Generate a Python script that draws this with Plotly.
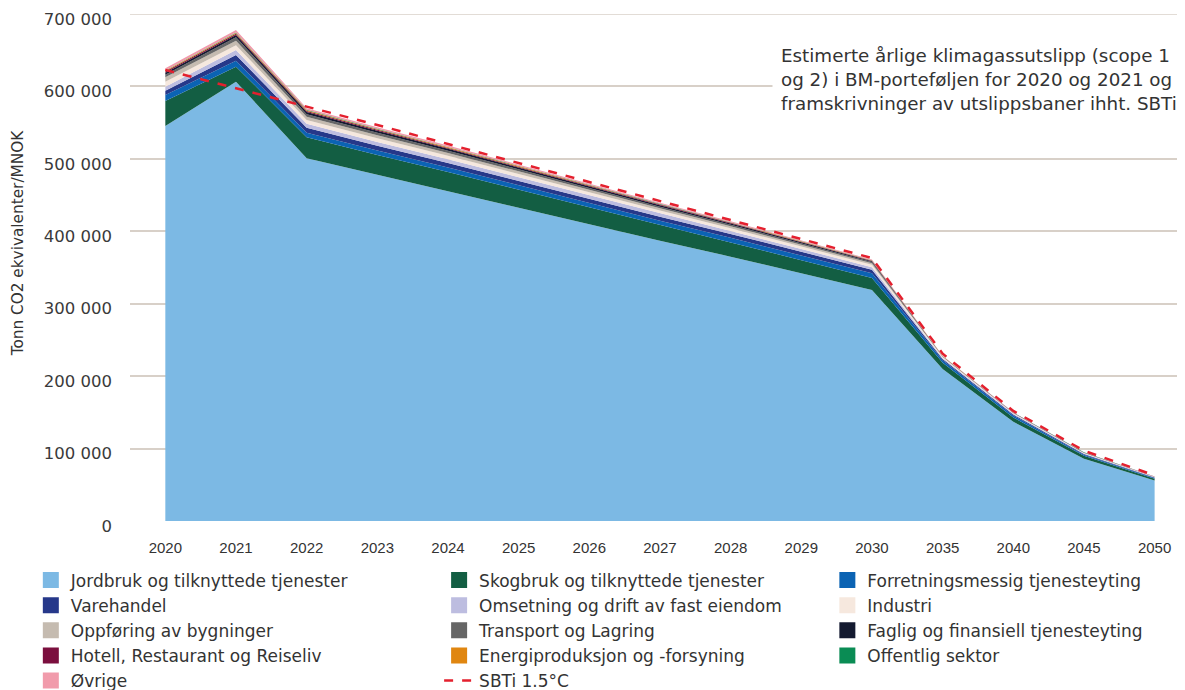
import plotly.graph_objects as go

years = ["2020", "2021", "2022", "2023", "2024", "2025", "2026", "2027",
         "2028", "2029", "2030", "2035", "2040", "2045", "2050"]

# values in 1000 tonn CO2e (stack layers, bottom to top)
jordbruk = [545.5, 606.6, 501, 478, 456, 433, 410, 387, 365, 342, 319, 210, 137, 86, 56]
skogbruk = [34.5, 20.7, 29, 27.4, 25.9, 24.3, 22.8, 21.2, 19.6, 18.1, 16.5, 8.5, 6, 4, 2.5]
forretning = [8, 8.3, 6.2, 6.2, 6.3, 6.3, 6.4, 6.4, 6.4, 6.5, 6.5, 3.3, 2.5, 1.6, 1.0]
varehandel = [6, 7.8, 6.6, 6.4, 6.2, 6.0, 5.8, 5.6, 5.4, 5.2, 5.0, 2.0, 1.5, 1.0, 0.6]
omsetning = [5.7, 6.9, 5.5, 5.3, 5.0, 4.8, 4.5, 4.3, 4.0, 3.8, 3.5, 1.3, 1.0, 0.7, 0.4]
industri = [6.9, 6.7, 5.5, 5.2, 4.9, 4.6, 4.4, 4.1, 3.8, 3.5, 3.2, 1.2, 0.8, 0.5, 0.3]
oppforing = [6.1, 6.0, 4.5, 4.2, 3.9, 3.6, 3.4, 3.1, 2.8, 2.5, 2.2, 0.5, 0.4, 0.3, 0.2]
transport = [3.3, 5.0, 3.4, 3.2, 3.0, 2.7, 2.5, 2.3, 2.1, 1.8, 1.6, 0.4, 0.3, 0.2, 0.15]
faglig = [3.0, 3.0, 3.1, 2.9, 2.7, 2.4, 2.2, 2.0, 1.8, 1.5, 1.3, 0.3, 0.2, 0.2, 0.1]
hotell = [1.5, 1.6, 1.4, 1.3, 1.2, 1.1, 1.0, 0.9, 0.8, 0.7, 0.6, 0.1, 0.1, 0.1, 0.05]
energi = [1.0, 1.1, 1.0, 0.9, 0.9, 0.8, 0.7, 0.6, 0.5, 0.5, 0.4, 0.1, 0.05, 0.1, 0.05]
offentlig = [0.5, 0.6, 0.6, 0.6, 0.5, 0.5, 0.5, 0.4, 0.4, 0.3, 0.3, 0.1, 0.05, 0.1, 0.05]
ovrige = [3.0, 3.7, 2.2, 2.0, 1.9, 1.7, 1.6, 1.4, 1.2, 1.1, 0.9, 0.2, 0.1, 0.2, 0.1]
sbti = [622.8, 597.5, 573, 546.8, 520.5, 494.3, 468, 441.8, 415.5, 389.3, 363, 231, 152, 97, 63]

series_names = [
    "Jordbruk og tilknyttede tjenester", "Skogbruk og tilknyttede tjenester",
    "Forretningsmessig tjenesteyting", "Varehandel",
    "Omsetning og drift av fast eiendom", "Industri",
    "Oppføring av bygninger", "Transport og Lagring",
    "Faglig og finansiell tjenesteyting", "Hotell, Restaurant og Reiseliv",
    "Energiproduksjon og -forsyning", "Offentlig sektor", "Øvrige",
]
series_values = [jordbruk, skogbruk, forretning, varehandel, omsetning, industri,
                 oppforing, transport, faglig, hotell, energi, offentlig, ovrige]
series_colors = ["#7cb9e4", "#135e43", "#0b63b3", "#26388a", "#bdbde0", "#f6e8de",
                 "#c5bbb0", "#666666", "#141a30", "#7b0f3e", "#e08610", "#0a8c54",
                 "#f19bab"]
legend_of = ["legend", "legend2", "legend3"] * 5

ytick_vals = [0, 100000, 200000, 300000, 400000, 500000, 600000, 700000]
ytick_text = ["0", "100 000", "200 000", "300 000", "400 000", "500 000", "600 000", "700 000"]

fig = go.Figure()
for i, (name, vals, col) in enumerate(zip(series_names, series_values, series_colors)):
    fig.add_trace(go.Scatter(
        x=years, y=[v * 1000 for v in vals], name=name, mode="lines",
        stackgroup="one", line=dict(width=0, color=col), fillcolor=col,
        legendgroup=name, showlegend=False, hoverinfo="x+y+name"))
for i, (name, col) in enumerate(zip(series_names, series_colors)):
    fig.add_trace(go.Scatter(
        x=[None], y=[None], name=name, mode="markers",
        marker=dict(symbol="square", size=16, color=col, line=dict(width=0)),
        legendgroup=name, showlegend=True, legend=legend_of[i]))
fig.add_trace(go.Scatter(
    x=years, y=[v * 1000 for v in sbti], name="SBTi 1.5°C", mode="lines",
    line=dict(color="#e4202e", width=2.5, dash="dash"), legend="legend2"))

font_leg = dict(family="DejaVu Sans, sans-serif", size=17, color="#333333")
leg_common = dict(orientation="v", yanchor="top", xanchor="left", y=-0.082,
                  font=font_leg, bgcolor="rgba(0,0,0,0)", tracegroupgap=0,
                  itemclick="toggle")

# page body adds an 8px offset, so the figure is drawn 8px smaller
fig.update_layout(
    width=1177, height=682,
    margin=dict(l=122, r=0, t=6, b=169, autoexpand=False),
    paper_bgcolor="white", plot_bgcolor="white",
    showlegend=True,
    legend=dict(x=-0.094, **leg_common),
    legend2=dict(x=0.293, **leg_common),
    legend3=dict(x=0.661, **leg_common),
    xaxis=dict(type="category", range=[-0.5, 14.43], showgrid=False, zeroline=False,
               showline=False, ticks="", ticklabelstandoff=16, automargin=False,
               tickfont=dict(family="Liberation Sans Narrow, Arial Narrow, sans-serif",
                             size=15, color="#333333")),
    yaxis=dict(range=[0, 700000], tickvals=ytick_vals, ticktext=ytick_text,
               showgrid=True, gridcolor="#d8d0c8", gridwidth=1.5, zeroline=False,
               showline=False, ticks="", ticklabelstandoff=17, automargin=False,
               ticklabeloverflow="allow", ticklabelshift=5,
               tickfont=dict(family="DejaVu Sans, sans-serif", size=16.5, color="#3a3a3a")),
    shapes=[dict(type="line", xref="paper", yref="y", x0=0, x1=1, y0=700000, y1=700000,
                 line=dict(color="#d8d0c8", width=1.5), layer="below")],
    annotations=[
        dict(text="Tonn CO2 ekvivalenter/MNOK", textangle=-90, xref="paper", yref="paper",
             x=-0.106, y=0.548, xanchor="center", yanchor="middle", showarrow=False,
             font=dict(family="DejaVu Sans, sans-serif", size=15.3, color="#333333")),
        dict(text="Estimerte årlige klimagassutslipp (scope 1<br>og 2) i BM-porteføljen for 2020 og 2021 og<br>framskrivninger av utslippsbaner ihht. SBTi",
             xref="paper", yref="paper", x=0.6089, y=0.957, xanchor="left", yanchor="top",
             align="left", showarrow=False, bgcolor="white", borderpad=8,
             font=dict(family="DejaVu Sans, sans-serif", size=18.3, color="#333333")),
    ],
)

fig.write_html("out.html")
